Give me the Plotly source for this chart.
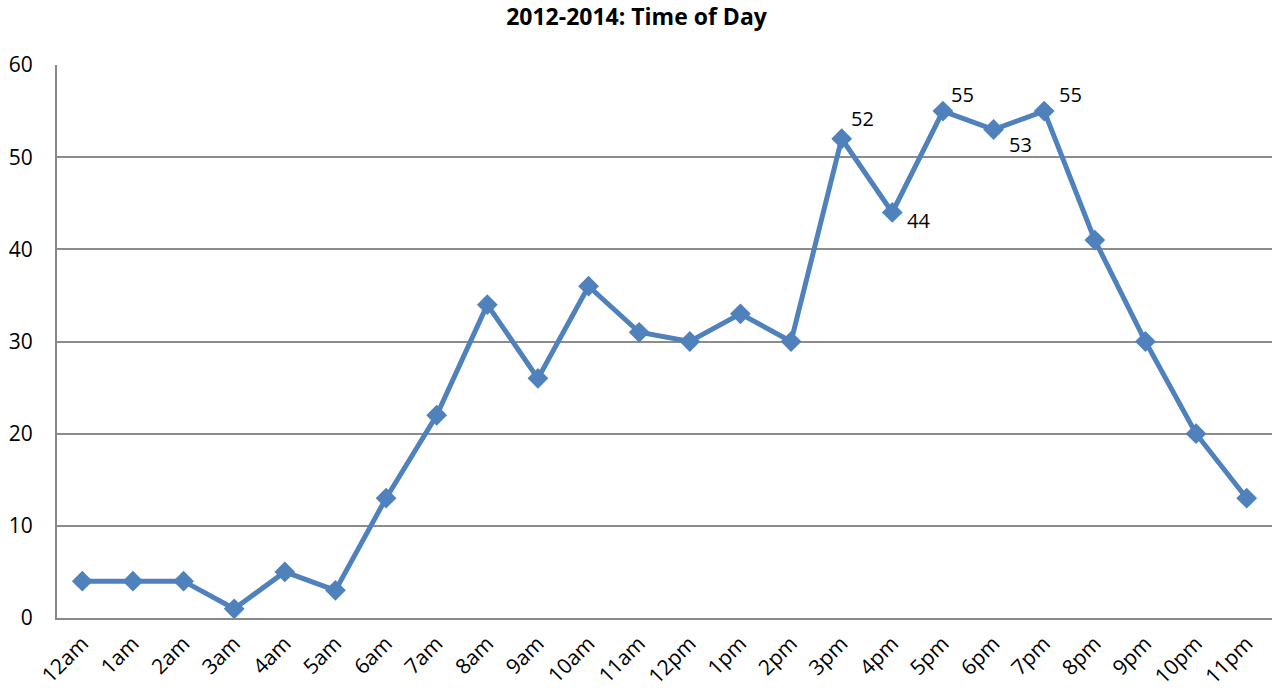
import plotly.graph_objects as go

hours = ["12am","1am","2am","3am","4am","5am","6am","7am","8am","9am","10am","11am",
         "12pm","1pm","2pm","3pm","4pm","5pm","6pm","7pm","8pm","9pm","10pm","11pm"]
counts = [4,4,4,1,5,3,13,22,34,26,36,31,30,33,30,52,44,55,53,55,41,30,20,13]
labeled = ["3pm","4pm","5pm","6pm","7pm"]

# label pixel offsets (style)
label_offsets = {"3pm": (7, 20), "4pm": (13, -8), "5pm": (6, 17), "6pm": (13, -15), "7pm": (13, 17)}

color = "#4F81BD"
fig = go.Figure()
fig.add_trace(go.Scatter(
    x=hours, y=counts, mode="lines+markers",
    line=dict(color=color, width=5),
    marker=dict(symbol="diamond", size=16, color=color),
    showlegend=False, hoverinfo="x+y", cliponaxis=False))

for h in labeled:
    v = counts[hours.index(h)]
    dx, dy = label_offsets[h]
    fig.add_annotation(x=h, y=v, text=str(v), showarrow=False,
                       xanchor="left", yanchor="middle",
                       xshift=dx, yshift=dy,
                       font=dict(family="Open Sans, sans-serif", size=20, color="#000"))

fig.update_layout(
    width=1273, height=690,
    margin=dict(l=57, r=1, t=65, b=72, autoexpand=False),
    paper_bgcolor="white", plot_bgcolor="white",
    title=dict(text="<b>2012-2014: Time of Day</b>", x=0.5, xanchor="center",
               y=0.975, yanchor="middle",
               font=dict(family="Open Sans, sans-serif", size=23, color="#000")),
    font=dict(family="Open Sans, sans-serif", size=19, color="#000"),
)
fig.update_xaxes(type="category", range=[-0.5, 23.5], showgrid=False, tickangle=-45,
                 showline=True, linecolor="#888", linewidth=2, automargin=False,
                 ticks="", tickfont=dict(size=21), ticklabelstandoff=3)
fig.update_yaxes(range=[0, 60], dtick=10, showgrid=True, gridcolor="#8c8c8c",
                 gridwidth=1.5, showline=True, linecolor="#888", linewidth=2,
                 zeroline=False, ticks="", ticklabelstandoff=18, automargin=False,
                 tickfont=dict(size=21))

fig.write_html("out.html", config={"displayModeBar": False},
               post_script="document.body.style.margin='0';document.body.style.overflow='hidden';")
